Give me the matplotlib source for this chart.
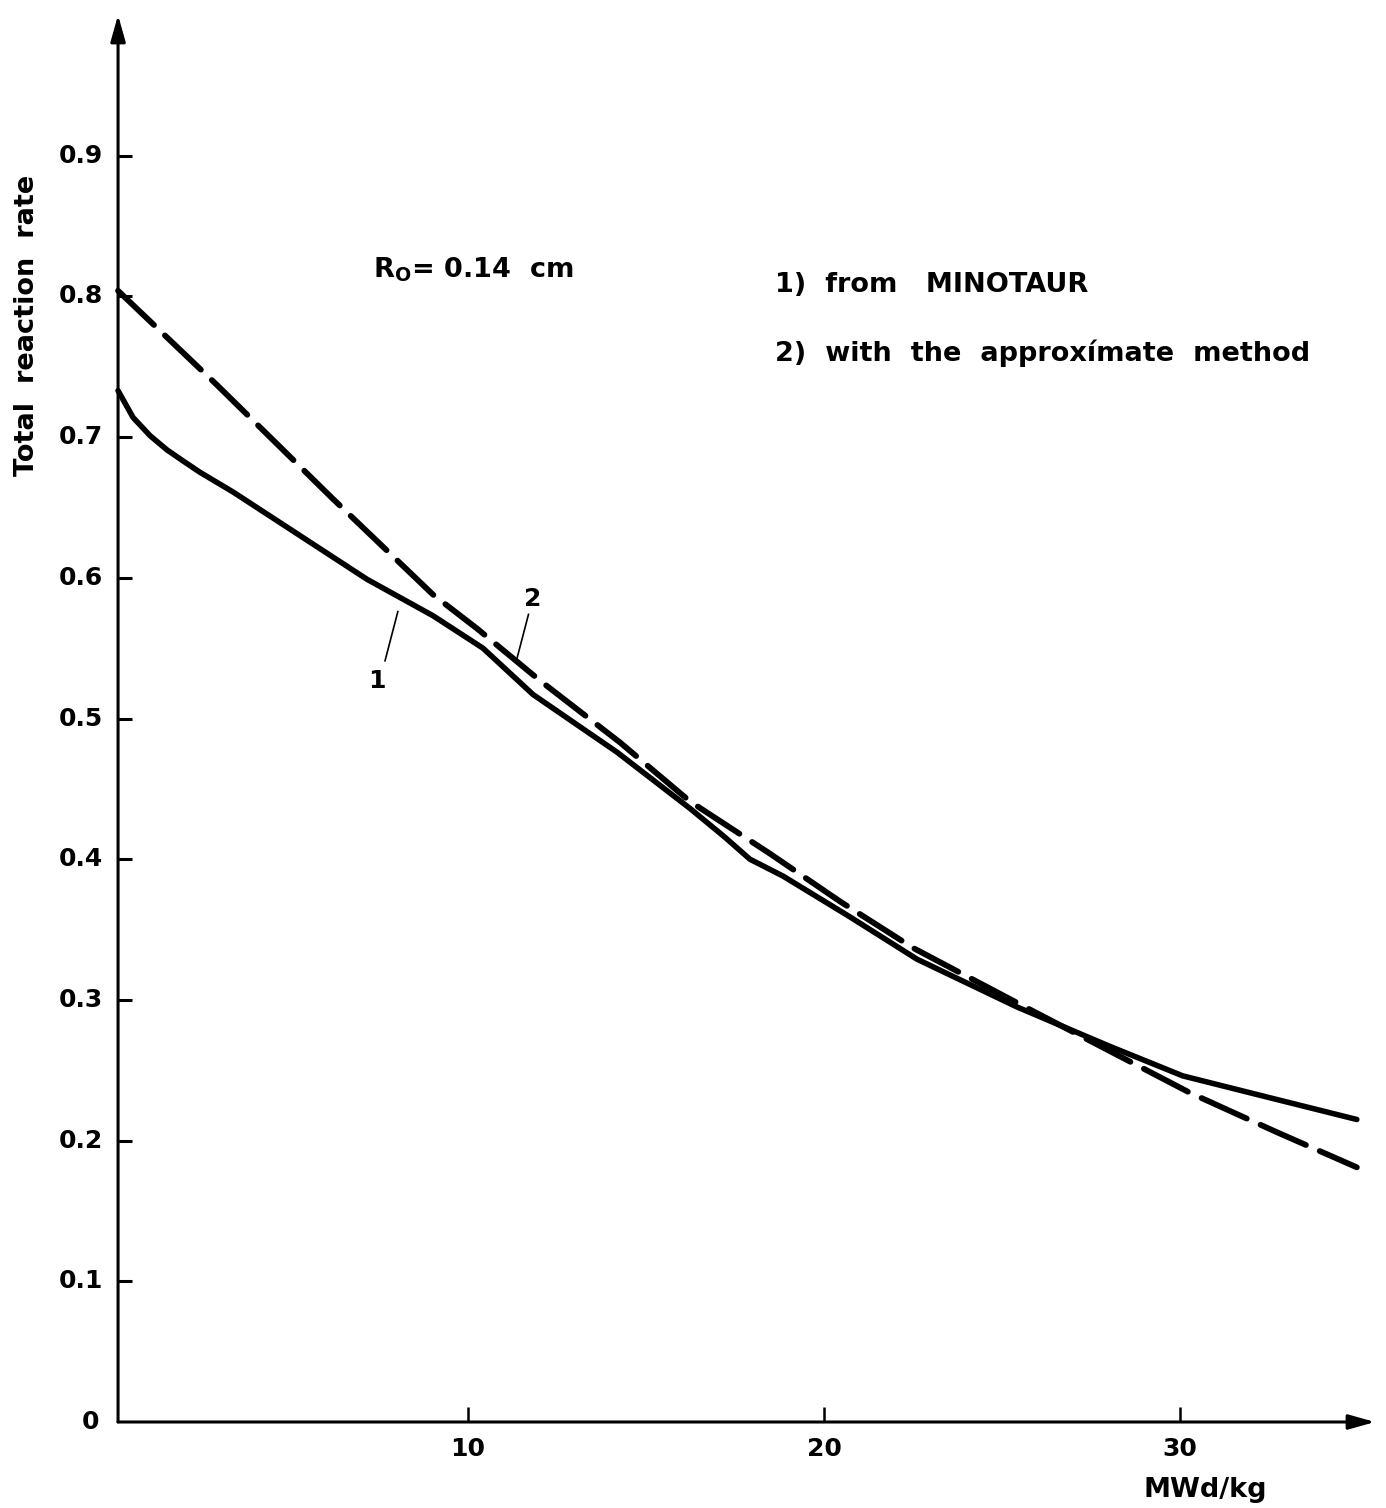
import matplotlib
matplotlib.use("Agg")
import matplotlib.pyplot as plt

# ---- data ----
x_minotaur = [0.17, 0.59, 1.07, 1.54, 2.0, 2.47, 3.40, 5.28, 7.16, 9.02, 10.42, 11.83, 14.19,
              16.24, 17.2, 17.92, 18.85, 20.73, 22.61, 25.42, 28.03, 30.08, 32.44, 34.97]
y_minotaur = [0.733, 0.714, 0.701, 0.691, 0.683, 0.675, 0.661, 0.630, 0.599, 0.573, 0.550,
              0.517, 0.476, 0.436, 0.416, 0.400, 0.388, 0.359, 0.329, 0.295, 0.267, 0.246, 0.231, 0.215]

x_approx = [0.17, 2.95, 6.21, 9.02, 10.25, 12.02, 14.27, 16.24, 18.48, 20.45, 22.5,
            25.42, 30.28, 32.72, 34.97]
y_approx = [0.804, 0.737, 0.656, 0.588, 0.564, 0.527, 0.483, 0.441, 0.404, 0.370, 0.337,
            0.298, 0.234, 0.206, 0.181]

x_ticks = [10, 20, 30]
x_ticklabels = ["10", "20", "30"]
y_ticks = [0.1, 0.2, 0.3, 0.4, 0.5, 0.6, 0.7, 0.8, 0.9]
y_ticklabels = ["0.1", "0.2", "0.3", "0.4", "0.5", "0.6", "0.7", "0.8", "0.9"]

FONT = "DejaVu Sans"
W, H = 1386, 1508
fig = plt.figure(figsize=(W / 100, H / 100), dpi=100)
fig.patch.set_facecolor("white")

left_px, right_px = 112, 1375
bot_px, top_px = 1422, 15
ax = fig.add_axes([left_px / W, 1 - bot_px / H, (right_px - left_px) / W, (bot_px - top_px) / H])
ax.set_xlim(0, 35.48)
ax.set_ylim(0, 1.0)
ax.set_facecolor("none")

for s in ["top", "right", "left", "bottom"]:
    ax.spines[s].set_visible(False)

lw_axis = 2.2
ax.annotate("", xy=(0.17, 1.0), xytext=(0.17, 0.0),
            arrowprops=dict(arrowstyle="-|>,head_length=1.6,head_width=0.45", lw=lw_axis, color="black",
                            shrinkA=0, shrinkB=0))
ax.annotate("", xy=(35.48, 0.0), xytext=(0.17, 0.0),
            arrowprops=dict(arrowstyle="-|>,head_length=1.6,head_width=0.45", lw=lw_axis, color="black",
                            shrinkA=0, shrinkB=0))

for yt, lab in zip(y_ticks, y_ticklabels):
    ax.plot([0.17, 0.55], [yt, yt], color="black", lw=2.2, solid_capstyle="butt")
    ax.text(-0.25, yt, lab, ha="right", va="center", fontsize=18, fontweight="bold", family=FONT)
ax.text(-0.35, 0.0, "0", ha="right", va="center", fontsize=18, fontweight="bold", family=FONT)
for xt, lab in zip(x_ticks, x_ticklabels):
    ax.plot([xt, xt], [0.0, 0.011], color="black", lw=1.8, solid_capstyle="butt")
    ax.text(xt, -0.011, lab, ha="center", va="top", fontsize=18, fontweight="bold", family=FONT)
ax.set_xticks([])
ax.set_yticks([])

# curves
ax.plot(x_minotaur, y_minotaur, color="black", lw=4.0, solid_capstyle="round", solid_joinstyle="round")
ax.plot(x_approx, y_approx, color="black", lw=4.2, linestyle=(0, (8.5, 2.6)), dash_capstyle="round")

# curve labels with leader lines
ax.text(7.45, 0.527, "1", ha="center", va="center", fontsize=18, fontweight="bold", family=FONT)
ax.plot([7.67, 8.03], [0.541, 0.576], color="black", lw=1.2)
ax.text(11.83, 0.585, "2", ha="center", va="center", fontsize=18, fontweight="bold", family=FONT)
ax.plot([11.7, 11.38], [0.574, 0.543], color="black", lw=1.2)

# annotations
fig.text(373 / W, 1 - 270 / H, r"R$_{\mathregular{O}}$= 0.14  cm", ha="left", va="center",
         fontsize=19.5, fontweight="bold", family=FONT)
fig.text(775 / W, 1 - 285 / H, "1)  from   MINOTAUR", ha="left", va="center",
         fontsize=19.5, fontweight="bold", family=FONT)
fig.text(775 / W, 1 - 353 / H, "2)  with  the  approxímate  method", ha="left", va="center",
         fontsize=19.5, fontweight="bold", family=FONT)

fig.text(27 / W, 1 - 325 / H, "Total  reaction  rate", rotation=90, ha="center", va="center",
         fontsize=19.5, fontweight="bold", family=FONT)
fig.text(1205 / W, 1 - 1490 / H, "MWd/kg", ha="center", va="center",
         fontsize=19.5, fontweight="bold", family=FONT)

fig.savefig("out.png", dpi=100, facecolor="white")
